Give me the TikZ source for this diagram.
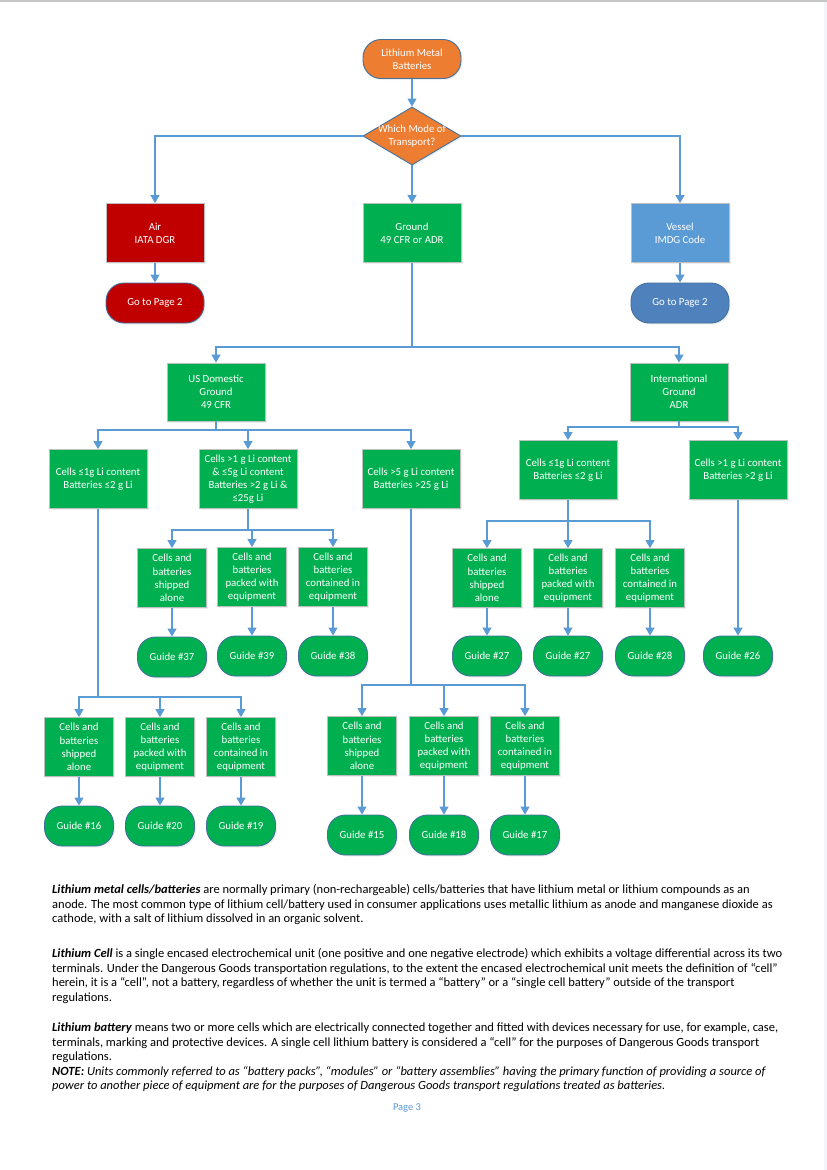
\documentclass[tikz,border=0pt]{standalone}
\usepackage{fontspec}
\setmainfont{Carlito}
\usetikzlibrary{arrows.meta,shapes.geometric,shadows}
\definecolor{cgreen}{HTML}{00B050}
\definecolor{cred}{HTML}{C00000}
\definecolor{clblue}{HTML}{5B9BD5}
\definecolor{cdblue}{HTML}{4F81BD}
\definecolor{corange}{HTML}{ED7D31}
\definecolor{cline}{HTML}{5B9BD5}
\definecolor{cgray}{HTML}{BFBFBF}
\definecolor{cterm}{HTML}{41719C}
\definecolor{cfaint}{HTML}{F3F5FA}
\begin{document}
\begin{tikzpicture}[x=1pt,y=-1pt,
  conn/.style={draw=cline, line width=1.1pt},
  arr/.style={conn,-{Triangle[width=9pt,length=8pt]}},
  shade/.style={drop shadow={opacity=0.12, shadow xshift=1.5pt, shadow yshift=-1.5pt}},
  box/.style={rectangle, draw=cgray, line width=0.8pt, fill=cgreen, text=white,
    font=\fontsize{10.8}{13.2}\selectfont, align=center, inner sep=1pt, shade},
  big/.style={box, minimum width=98pt, minimum height=59pt},
  small/.style={box, minimum width=69pt, minimum height=59pt},
  term/.style={rectangle, rounded corners=18pt, draw=cterm, line width=0.9pt, fill=cgreen,
    text=white, font=\fontsize{10.8}{13.2}\selectfont, align=center, minimum height=40pt, shade},
  bigterm/.style={term, minimum width=98pt},
  smallterm/.style={term, minimum width=69pt},
  body/.style={anchor=base west, inner sep=0pt, font=\fontsize{12.5}{14.5}\selectfont},
]
\useasboundingbox (0,0) rectangle (827,1170);
\fill[white] (0,0) rectangle (827,1170);
\fill[gray!45] (0,0) rectangle (827,1.5);
\fill[cfaint] (824,1.5) rectangle (827,1170);

% top level
\node[bigterm, fill=corange, minimum height=39pt] (start) at (412,59) {Lithium Metal\\Batteries};
\node[diamond, draw=cterm, line width=0.9pt, fill=corange, minimum width=98pt, minimum height=58pt, inner sep=0pt, shade] (dia) at (412,136) {};
\node[text=white, font=\fontsize{10.8}{13.2}\selectfont, align=center, inner sep=0pt] (diat) at (412,136) {Which Mode of\\Transport?};
\node[big, fill=cred] (air) at (155,233) {Air\\IATA DGR};
\node[big] (ground) at (412,233) {Ground\\49 CFR or ADR};
\node[big, fill=clblue] (vessel) at (680,233) {Vessel\\IMDG Code};
\node[bigterm, fill=cred] (gotoA) at (155,303) {Go to Page 2};
\node[bigterm, fill=cdblue] (gotoV) at (680,303) {Go to Page 2};

\node[big, minimum height=58pt] (us) at (216,392) {US Domestic\\Ground\\49 CFR};
\node[big, minimum height=58pt] (intl) at (679,392) {International\\Ground\\ADR};

\node[big] (ua) at (98,479) {Cells ≤1g Li content\\Batteries ≤2 g Li};
\node[big] (ub) at (248,479) {Cells >1 g Li content\\\& ≤5g Li content\\Batteries >2 g Li \&\\≤25g Li};
\node[big] (uc) at (411,479) {Cells >5 g Li content\\Batteries >25 g Li};
\node[big] (ia) at (568,470) {Cells ≤1g Li content\\Batteries ≤2 g Li};
\node[big] (ib) at (738,470) {Cells >1 g Li content\\Batteries >2 g Li};

% group B (from ub)
\node[small] (bA) at (172,578) {Cells and\\batteries\\shipped\\alone};
\node[small] (bB) at (252,577) {Cells and\\batteries\\packed with\\equipment};
\node[small] (bC) at (333,577) {Cells and\\batteries\\contained in\\equipment};
\node[smallterm] (gbA) at (172,657) {Guide \#37};
\node[smallterm] (gbB) at (252,656) {Guide \#39};
\node[smallterm] (gbC) at (333,656) {Guide \#38};

% group I (from ia)
\node[small] (iA) at (487,578) {Cells and\\batteries\\shipped\\alone};
\node[small] (iB) at (568,578) {Cells and\\batteries\\packed with\\equipment};
\node[small] (iC) at (650,578) {Cells and\\batteries\\contained in\\equipment};
\node[smallterm] (giA) at (487,656) {Guide \#27};
\node[smallterm] (giB) at (568,656) {Guide \#27};
\node[smallterm] (giC) at (650,656) {Guide \#28};
\node[smallterm] (g26) at (738,656) {Guide \#26};

% group A (from ua)
\node[small] (aA) at (79,747) {Cells and\\batteries\\shipped\\alone};
\node[small] (aB) at (160,747) {Cells and\\batteries\\packed with\\equipment};
\node[small] (aC) at (241,747) {Cells and\\batteries\\contained in\\equipment};
\node[smallterm] (gaA) at (79,826) {Guide \#16};
\node[smallterm] (gaB) at (160,826) {Guide \#20};
\node[smallterm] (gaC) at (241,826) {Guide \#19};

% group C (from uc)
\node[small] (cA) at (362,746) {Cells and\\batteries\\shipped\\alone};
\node[small] (cB) at (444,746) {Cells and\\batteries\\packed with\\equipment};
\node[small] (cC) at (525,746) {Cells and\\batteries\\contained in\\equipment};
\node[smallterm] (gcA) at (362,835) {Guide \#15};
\node[smallterm] (gcB) at (444,835) {Guide \#18};
\node[smallterm] (gcC) at (525,835) {Guide \#17};

% connectors
\draw[arr] (start) -- (dia);
\draw[arr] (dia.west) -| (air.north);
\draw[arr] (dia) -- (ground);
\draw[arr] (dia.east) -| (vessel.north);
\draw[arr] (air) -- (gotoA);
\draw[arr] (vessel) -- (gotoV);

\coordinate (j1) at (412,347);
\draw[conn] (ground.south) -- (j1);
\draw[arr] (j1) -| (us.north);
\draw[arr] (j1) -| (intl.north);

\coordinate (j2) at (216,430);
\draw[conn] (us.south) -- (j2);
\draw[arr] (j2) -| (ua.north);
\draw[arr] (j2) -| (ub.north);
\draw[arr] (j2) -| (uc.north);

\coordinate (j3) at (679,427);
\draw[conn] (intl.south) -- (j3);
\draw[arr] (j3) -| (ia.north);
\draw[arr] (j3) -| (ib.north);

\coordinate (j4) at (248,530);
\draw[conn] (ub.south) -- (j4);
\draw[arr] (j4) -| (bA.north);
\draw[arr] (j4) -| (bB.north);
\draw[arr] (j4) -| (bC.north);
\draw[arr] (bA) -- (gbA);
\draw[arr] (bB) -- (gbB);
\draw[arr] (bC) -- (gbC);

\coordinate (j5) at (568,521);
\draw[conn] (ia.south) -- (j5);
\draw[arr] (j5) -| (iA.north);
\draw[arr] (j5) -| (iB.north);
\draw[arr] (j5) -| (iC.north);
\draw[arr] (iA) -- (giA);
\draw[arr] (iB) -- (giB);
\draw[arr] (iC) -- (giC);
\draw[arr] (ib) -- (g26);

\coordinate (j6) at (98,697);
\draw[conn] (ua.south) -- (j6);
\draw[arr] (j6) -| (aA.north);
\draw[arr] (j6) -| (aB.north);
\draw[arr] (j6) -| (aC.north);
\draw[arr] (aA) -- (gaA);
\draw[arr] (aB) -- (gaB);
\draw[arr] (aC) -- (gaC);

\coordinate (j7) at (411,685);
\draw[conn] (uc.south) -- (j7);
\draw[arr] (j7) -| (cA.north);
\draw[arr] (j7) -| (cB.north);
\draw[arr] (j7) -| (cC.north);
\draw[arr] (cA) -- (gcA);
\draw[arr] (cB) -- (gcB);
\draw[arr] (cC) -- (gcC);

% body text
\node[body] (p1a) at (52,893.5) {\textbf{\textit{Lithium metal cells/batteries}} are normally primary (non-rechargeable) cells/batteries that have lithium metal or lithium compounds as an};
\node[body] (p1b) at (52,908) {anode. The most common type of lithium cell/battery used in consumer applications uses metallic lithium as anode and manganese dioxide as};
\node[body] (p1c) at (52,922.5) {cathode, with a salt of lithium dissolved in an organic solvent.};

\node[body] (p2a) at (52,957.5) {\textbf{\textit{Lithium Cell}} is a single encased electrochemical unit (one positive and one negative electrode) which exhibits a voltage differential across its two};
\node[body] (p2b) at (52,972) {terminals. Under the Dangerous Goods transportation regulations, to the extent the encased electrochemical unit meets the definition of “cell”};
\node[body] (p2c) at (52,986.5) {herein, it is a “cell”, not a battery, regardless of whether the unit is termed a “battery” or a “single cell battery” outside of the transport};
\node[body] (p2d) at (52,1001) {regulations.};

\node[body] (p3a) at (52,1031.5) {\textbf{\textit{Lithium battery}} means two or more cells which are electrically connected together and fitted with devices necessary for use, for example, case,};
\node[body] (p3b) at (52,1046) {terminals, marking and protective devices. A single cell lithium battery is considered a “cell” for the purposes of Dangerous Goods transport};
\node[body] (p3c) at (52,1060.5) {regulations.};
\node[body] (p3d) at (52,1075) {\textbf{\textit{NOTE:}} \textit{Units commonly referred to as “battery packs”, “modules” or “battery assemblies” having the primary function of providing a source of}};
\node[body] (p3e) at (52,1089.5) {\textit{power to another piece of equipment are for the purposes of Dangerous Goods transport regulations treated as batteries.}};

\node[text=clblue, font=\fontsize{10.5}{12}\selectfont, inner sep=0pt] (pg) at (407,1108) {Page 3};
\end{tikzpicture}
\end{document}
